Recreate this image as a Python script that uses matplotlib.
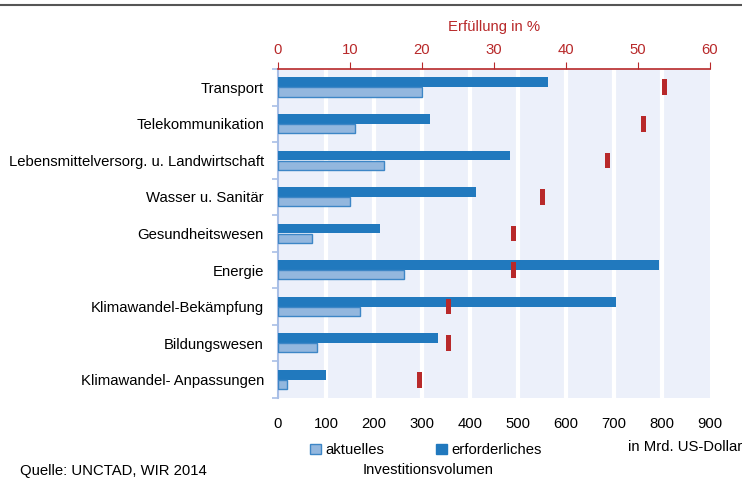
import numpy as np
import matplotlib
matplotlib.use("Agg")
import matplotlib.pyplot as plt
from matplotlib.patches import Patch

plt.rcParams['font.family'] = ['Liberation Sans', 'DejaVu Sans']

# Investitionsvolumen in Mrd. US-Dollar
categories = ['Transport', 'Telekommunikation',
              'Lebensmittelversorg. u. Landwirtschaft', 'Wasser u. Sanitär',
              'Gesundheitswesen', 'Energie', 'Klimawandel-Bekämpfung',
              'Bildungswesen', 'Klimawandel- Anpassungen']
aktuelles = [300, 161, 221, 151, 70, 262, 171, 81, 19]
erforderliches = [562, 317, 483, 412, 212, 794, 704, 333, 101]
# Erfüllung in %
erfuellung = [53.7, 50.8, 45.8, 36.8, 32.7, 32.7, 23.7, 23.7, 19.7]

c_req = '#2179BE'
c_cur = '#93B7DE'
c_cur_edge = '#3D86C6'
c_red = '#B8292A'
c_bg = '#ECF0FA'
fs = 10.75

fig = plt.figure(figsize=(7.42, 4.79), dpi=100)
ax = fig.add_axes([278/742, 1-398/479, 432/742, 329/479])
ax.set_facecolor(c_bg)

y = np.arange(len(categories))
ax.barh(y - 0.135, erforderliches, height=0.265, color=c_req, zorder=3)
ax.barh(y + 0.13, aktuelles, height=0.25, color=c_cur, edgecolor=c_cur_edge,
        linewidth=1, zorder=3)

ax.set_xlim(0, 900)
ax.set_ylim(len(categories) - 0.5, -0.5)
ax.set_xticks(np.arange(0, 1000, 100))
ax.tick_params(axis='x', length=0, pad=14, labelsize=fs)
ax.set_yticks(y)
ax.set_yticklabels(categories, fontsize=fs)
ax.tick_params(axis='y', length=0, pad=10)
ax.set_yticks(np.arange(-0.5, len(categories)), minor=True)
ax.tick_params(axis='y', which='minor', length=4, color='#A9BFE6', width=1.2)
for xv in range(100, 900, 100):
    ax.axvline(xv, color='white', lw=3, zorder=1)
for s in ['top', 'right', 'bottom']:
    ax.spines[s].set_visible(False)
ax.spines['left'].set_color('#A9BFE6')
ax.spines['left'].set_linewidth(1.5)

# Erfüllungsgrad (obere Achse)
ax2 = ax.twiny()
ax2.set_xlim(0, 60)
ax2.barh(y, [0.7] * len(y), left=np.array(erfuellung) - 0.35, height=0.43,
         color=c_red, zorder=4)
ax2.set_xticks(np.arange(0, 70, 10))
ax2.tick_params(axis='x', colors=c_red, length=5, labelsize=fs, pad=4)
ax2.spines['top'].set_color(c_red)
ax2.spines['top'].set_linewidth(1.2)
for s in ['left', 'right', 'bottom']:
    ax2.spines[s].set_visible(False)
ax2.set_xlabel('Erfüllung in %', color=c_red, fontsize=fs, labelpad=8)

# Legende und Beschriftungen
handles = [Patch(facecolor=c_cur, edgecolor=c_cur_edge, label='aktuelles'),
           Patch(facecolor=c_req, edgecolor=c_req, label='erforderliches')]
fig.legend(handles=handles, loc='center', bbox_to_anchor=(426/742, 1-450/479),
           ncol=2, frameon=False, fontsize=fs, handlelength=0.7,
           handleheight=0.7, handletextpad=0.3, columnspacing=3.5)
fig.text(428/742, 1-470/479, 'Investitionsvolumen', ha='center', va='center',
         fontsize=fs)
fig.text(685/742, 1-447/479, 'in Mrd. US-Dollar', ha='center', va='center',
         fontsize=fs)
fig.text(20/742, 1-471/479, 'Quelle: UNCTAD, WIR 2014', ha='left', va='center',
         fontsize=fs)

# Linie oben
fig.add_artist(plt.Line2D([0, 1], [1-5/479, 1-5/479], color='#555555', lw=1.5))

fig.savefig('out.png', dpi=100)
